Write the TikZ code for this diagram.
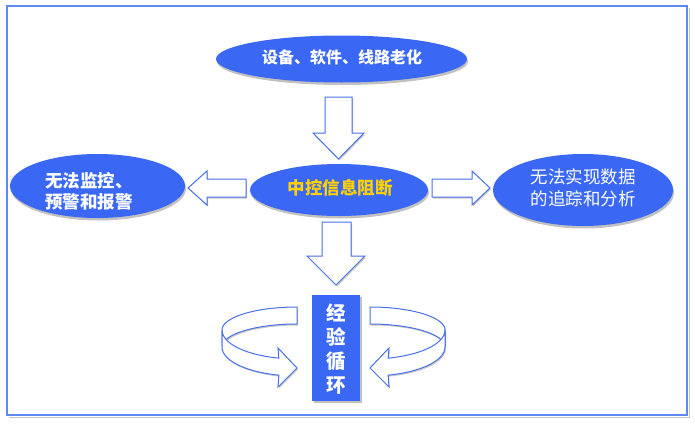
\documentclass[tikz,border=0pt]{standalone}
\usepackage{fontspec}
\newfontfamily\cjk{Noto Sans CJK SC}
\usetikzlibrary{shapes.geometric,shadows}
\definecolor{ellblue}{RGB}{58,104,245}
\definecolor{arrblue}{RGB}{72,112,232}
\definecolor{frameblue}{RGB}{96,136,242}
\definecolor{gold}{RGB}{255,208,0}
\newcommand\cycarrow[2]{%
 \filldraw[blockarrow] plot[samples=40,domain=-90:-180] ({#1+#2*75*cos(\x)},{330+23*sin(\x)}) -- plot[samples=40,domain=-180:-90] ({#1+#2*75*cos(\x)},{347+23*sin(\x)}) -- cycle;
 \filldraw[blockarrow] plot[samples=30,domain=180:104] ({#1+#2*75*cos(\x)},{330+29*sin(\x)}) -- ({#1-#2*19},348) -- (#1,368) -- ({#1-#2*19},387) -- plot[samples=30,domain=104:180] ({#1+#2*75*cos(\x)},{347+29*sin(\x)}) -- cycle;
}
\begin{document}
\begin{tikzpicture}[x=1pt,y=-1pt,
  ell/.style={ellipse,fill=ellblue,draw=none,inner sep=0pt,
    drop shadow={shadow xshift=1pt,shadow yshift=-2.5pt,opacity=0.35,fill=black!70}},
  blockarrow/.style={draw=arrblue,line width=1pt,fill=white,line join=miter,
    drop shadow={shadow xshift=1pt,shadow yshift=-1.5pt,opacity=0.3,fill=black!70}},
  wtext/.style={text=white,font=\cjk\bfseries,inner sep=0pt}]
\useasboundingbox (0,0) rectangle (695,423);
% frame
\draw[gray!45,line width=1pt] (9,417.5) -- (689,417.5) -- (689,8);
\draw[frameblue,line width=1.6pt] (7,6) rectangle (687,415);
% ellipses
\node[ell,minimum width=251pt,minimum height=47pt] (top) at (341.5,59) {};
\node[wtext,font=\cjk\bfseries\fontsize{16}{18}\selectfont] (toptext) at (342,57) {设备、软件、线路老化};
\node[ell,minimum width=178pt,minimum height=52pt] (mid) at (339,190) {};
\node[wtext,text=gold,font=\cjk\bfseries\fontsize{17.5}{20}\selectfont] (midtext) at (340,188) {中控信息阻断};
\node[ell,minimum width=175pt,minimum height=64pt] (left) at (97.5,186) {};
\node[wtext,align=left,anchor=west,font=\cjk\bfseries\fontsize{17.5}{21}\selectfont] (lefttext) at (45,191) {无法监控、\\预警和报警};
\node[ell,minimum width=180pt,minimum height=72pt] (right) at (583,190) {};
\node[wtext,align=center,font=\cjk\fontsize{17.5}{22}\selectfont] (righttext) at (583,188) {无法实现数据\\的追踪和分析};
% block arrows
\filldraw[blockarrow] (325,97) -- (352,97) -- (352,133) -- (364,133) -- (338.5,159) -- (313,133) -- (325,133) -- cycle;
\filldraw[blockarrow] (322,222) -- (351,222) -- (351,256) -- (365,256) -- (336,285) -- (307,256) -- (322,256) -- cycle;
\filldraw[blockarrow] (246,179) -- (207,179) -- (207,171) -- (188,188) -- (207,205) -- (207,197) -- (246,197) -- cycle;
\filldraw[blockarrow] (432,179) -- (472,179) -- (472,171) -- (490,188) -- (472,205) -- (472,197) -- (432,197) -- cycle;
% cycle arrows
\cycarrow{297}{1}
\cycarrow{370}{-1}
% rectangle
\node[fill=ellblue,minimum width=48pt,minimum height=106pt,inner sep=0pt,
  drop shadow={shadow xshift=1.5pt,shadow yshift=-2pt,opacity=0.35,fill=black!70}] (rect) at (336,347.5) {};
\node[wtext,align=center,font=\cjk\bfseries\fontsize{19.5}{24}\selectfont] (recttext) at (336,349) {经\\验\\循\\环};
\end{tikzpicture}
\end{document}
